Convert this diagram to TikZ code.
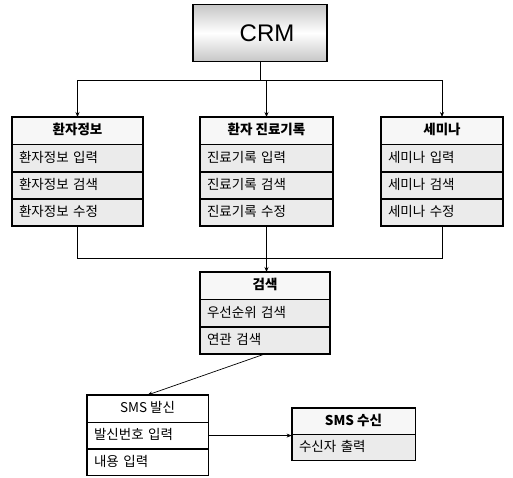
\documentclass[tikz,border=0pt]{standalone}
\usepackage{fontspec}
\setmainfont{Noto Sans CJK KR}
\newfontfamily\crmfont{Liberation Sans}
\usetikzlibrary{arrows.meta,positioning}

\tikzset{
  cell/.style={draw,line width=.8pt,fill=gray!16,minimum height=26.5pt,
    inner sep=0pt,anchor=north,font=\fontsize{13.5}{13.5}\selectfont,
    text height=11pt,text depth=2.5pt},
  item/.style={cell,align=left,text width=#1-14pt,minimum width=#1},
  hdr/.style={cell,fill=gray!6,minimum width=#1,font=\fontsize{13.5}{13.5}\selectfont\bfseries},
  frame/.style={draw,line width=2pt},
  link/.style={line width=.7pt}
}

\begin{document}
\begin{tikzpicture}[x=1pt,y=-1pt,>={Stealth[length=5pt,width=4pt]}]
  \useasboundingbox (0,0) rectangle (513,477);

  % top
  \node[draw,line width=1.2pt,minimum width=134pt,minimum height=57pt,
    shade,top color=gray!45,bottom color=gray!45,middle color=white,
    font=\crmfont\fontsize{24}{24}\selectfont] (crm) at (260,33) {\hspace*{14pt}CRM};

  % patient info
  \node[hdr=131pt] (pa) at (77.5,117) {환자정보};
  \node[item=131pt,below=0pt of pa] (pa1) {환자정보 입력};
  \node[item=131pt,below=0pt of pa1] (pa2) {환자정보 검색};
  \node[item=131pt,below=0pt of pa2] (pa3) {환자정보 수정};
  \draw[frame] (pa.north west) rectangle (pa3.south east);

  % records
  \node[hdr=133pt] (jr) at (266.5,117) {환자 진료기록};
  \node[item=133pt,below=0pt of jr] (jr1) {진료기록 입력};
  \node[item=133pt,below=0pt of jr1] (jr2) {진료기록 검색};
  \node[item=133pt,below=0pt of jr2] (jr3) {진료기록 수정};
  \draw[frame] (jr.north west) rectangle (jr3.south east);

  % seminar
  \node[hdr=122pt] (se) at (442,117) {세미나};
  \node[item=122pt,below=0pt of se] (se1) {세미나 입력};
  \node[item=122pt,below=0pt of se1] (se2) {세미나 검색};
  \node[item=122pt,below=0pt of se2] (se3) {세미나 수정};
  \draw[frame] (se.north west) rectangle (se3.south east);

  % search
  \node[hdr=130pt] (sr) at (265,272) {검색};
  \node[item=130pt,below=0pt of sr] (sr1) {우선순위 검색};
  \node[item=130pt,below=0pt of sr1] (sr2) {연관 검색};
  \draw[frame] (sr.north west) rectangle (sr2.south east);

  % sms
  \node[hdr=121pt,fill=white,font=\fontsize{13.5}{13.5}\selectfont] (snd) at (147.5,395) {SMS 발신};
  \node[item=121pt,fill=white,below=0pt of snd,minimum height=25.7pt] (snd1) {발신번호 입력};
  \node[item=121pt,fill=white,below=0pt of snd1,minimum height=25.7pt] (snd2) {내용 입력};
  \draw[frame,line width=1.4pt] (snd.north west) rectangle (snd2.south east);

  \node[hdr=123pt,minimum height=25.5pt] (rcv) at (353.5,408) {SMS 수신};
  \node[item=123pt,below=0pt of rcv,minimum height=25.5pt] (rcv1) {수신자 출력};
  \draw[frame,line width=1.4pt] (rcv.north west) rectangle (rcv1.south east);

  % links
  \draw[link] (crm.south) -- ++(0,18) coordinate (split);
  \draw[link] (split -| pa.north) -- (split -| se.north);
  \draw[link,->] (split -| pa.north) -- (pa.north);
  \draw[link,->] (split -| jr.north) -- (jr.north);
  \draw[link,->] (split -| se.north) -- (se.north);

  \draw[link] (pa3.south) -- ++(0,32) coordinate (join) -- (join -| se3.south) -- (se3.south);
  \draw[link,->] (jr3.south) -- (jr3.south |- sr.north);
  \draw[link,->] (sr2.south) -- (snd.north);
  \draw[link,->] (snd1.east) -- (snd1.east -| rcv.south west);
\end{tikzpicture}
\end{document}
